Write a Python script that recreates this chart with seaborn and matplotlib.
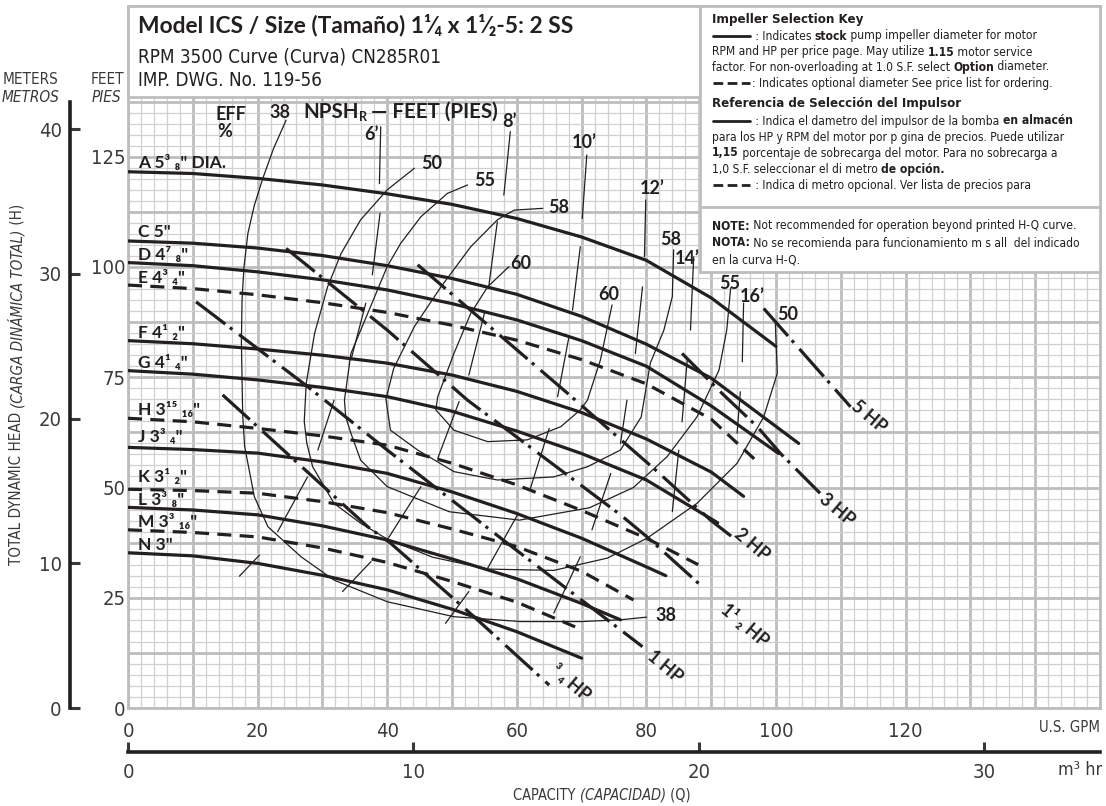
import numpy as np
import matplotlib
matplotlib.use("Agg")
from matplotlib import pyplot as plt
from matplotlib import font_manager
from matplotlib.patches import Rectangle
from matplotlib.lines import Line2D
import seaborn as sns

W, H = 1106, 806
INK = "#231f20"

# ---------------- values (U.S. GPM, feet) ----------------
q_A = [0, 10, 20, 30, 40, 50, 60, 70, 80, 90, 100]
h_A = [121.6, 121.2, 120.1, 118.6, 116.6, 114.2, 111.0, 106.8, 101.5, 93.0, 82.0]
q_C = [0, 10, 20, 30, 40, 50, 60, 70, 80, 90, 103.5]
h_C = [105.9, 105.4, 104.3, 102.6, 100.3, 97.4, 93.8, 88.8, 82.5, 74.8, 60.0]
q_D = [0, 10, 20, 30, 40, 50, 60, 70, 80, 90, 100.4]
h_D = [101.0, 100.3, 98.9, 97.1, 94.8, 91.7, 88.0, 83.3, 77.5, 68.5, 57.7]
q_E = [0, 10, 20, 30, 40, 50, 60, 70, 80, 90, 97]
h_E = [95.9, 95.1, 93.7, 91.9, 89.7, 86.8, 83.4, 79.0, 73.5, 65.5, 56.0]
q_F = [0, 10, 20, 30, 40, 50, 60, 70, 80, 90, 95]
h_F = [83.3, 82.6, 81.4, 80.0, 78.2, 75.5, 71.8, 67.0, 61.0, 53.5, 48.0]
q_G = [0, 10, 20, 30, 40, 50, 60, 70, 80, 91]
h_G = [76.5, 75.7, 74.4, 72.7, 70.6, 67.3, 62.8, 57.7, 51.7, 42.0]
q_H = [0, 10, 20, 30, 40, 50, 60, 70, 80, 88]
h_H = [65.7, 64.9, 63.4, 61.7, 59.6, 55.5, 50.6, 44.8, 38.5, 32.5]
q_J = [0, 10, 20, 30, 40, 50, 60, 70, 80, 83]
h_J = [59.1, 58.6, 57.8, 55.8, 53.2, 49.0, 44.1, 38.5, 32.0, 30.0]
q_K = [0, 10, 20, 30, 40, 50, 60, 70, 78]
h_K = [49.6, 49.3, 48.7, 46.8, 44.3, 40.6, 36.6, 31.0, 24.5]
q_L = [0, 10, 20, 30, 40, 50, 60, 70, 76]
h_L = [45.5, 44.9, 43.8, 41.3, 38.1, 33.8, 29.3, 23.7, 20.0]
q_M = [0, 10, 20, 30, 40, 50, 60, 69]
h_M = [40.4, 39.8, 38.8, 36.3, 33.0, 28.7, 24.0, 18.4]
q_N = [0, 10, 20, 30, 40, 50, 60, 70]
h_N = [35.2, 34.5, 32.8, 30.1, 26.8, 22.4, 17.3, 11.3]

diam_names = ['A 5³ ₈" DIA.', 'C 5"', 'D 4⁷ ₈"', 'E 4³ ₄"', 'F 4¹ ₂"', 'G 4¹ ₄"',
              'H 3¹⁵ ₁₆"', 'J 3³ ₄"', 'K 3¹ ₂"', 'L 3³ ₈"', 'M 3³ ₁₆"', 'N 3"']
diam_optional = [False, False, False, True, False, False, True, False, True, False, True, False]

# iso-efficiency lines (%)
eff38_q = [24.4, 22.5, 20.8, 19.5, 18.5, 17.9, 17.6, 17.5, 17.7, 18.0, 19.5, 21.6, 26.7, 31.8, 40.0, 50.3, 60.6, 70.0, 76.0, 80.0]
eff38_h = [133.3, 127.0, 120.1, 114.0, 107.6, 100.0, 92.5, 83.0, 66.4, 59.3, 47.9, 41.1, 34.3, 29.0, 24.1, 20.7, 19.6, 19.6, 20.0, 20.6]
eff50_q = [44.2, 40.0, 35.9, 32.9, 30.8, 28.8, 27.5, 27.2, 27.6, 28.5, 31.8, 35.9, 40.0, 47.0, 55.5, 65.7, 74.0, 80.1, 87.8, 94.0, 98.1, 100.2, 99.9]
eff50_h = [122.4, 117.5, 110.7, 103.1, 95.5, 85.0, 73.6, 65.0, 60.0, 54.7, 46.4, 41.9, 38.3, 34.2, 31.5, 31.2, 34.0, 38.5, 46.4, 55.5, 66.0, 75.9, 87.2]
eff55_q = [52.4, 49.3, 45.2, 42.1, 40.0, 37.0, 34.4, 33.4, 33.6, 34.4, 35.9, 40.0, 49.6, 60.4, 71.2, 78.0, 83.2, 87.8, 91.2, 92.4, 93.0]
eff55_h = [118.6, 116.7, 111.4, 105.4, 100.1, 89.5, 80.4, 69.8, 66.0, 62.3, 56.2, 50.2, 44.5, 42.6, 45.4, 50.0, 57.0, 66.0, 76.6, 85.7, 95.2]
eff58_q = [64.0, 59.6, 57.0, 52.9, 48.3, 44.2, 41.0, 39.8, 40.5, 44.7, 50.3, 57.0, 65.7, 70.9, 76.0, 79.2, 80.6, 82.7, 84.0, 84.2]
eff58_h = [113.3, 112.9, 110.7, 104.6, 95.5, 86.5, 77.0, 70.0, 63.0, 58.5, 53.6, 51.7, 52.4, 54.7, 58.5, 66.0, 78.2, 85.7, 93.3, 103.9]
eff60_q = [58.8, 55.5, 52.9, 50.3, 47.8, 47.5, 50.3, 55.5, 61.6, 66.8, 69.8, 70.9, 72.9, 74.7]
eff60_h = [100.1, 95.5, 89.5, 80.4, 70.6, 67.6, 63.0, 60.4, 60.8, 63.8, 67.6, 69.8, 78.9, 91.4]

# NPSHr lines, drawn as short pieces between the head curves: [(q0, h0, q1, h1), ...]
npsh6 = [(39.0, 131.8, 38.8, 118.9), (38.9, 112.2, 37.7, 98.2), (36.7, 91.8, 34.4, 78.9),
         (31.8, 69.8, 29.3, 58.5), (27.7, 52.4, 23.1, 40.0), (20.3, 34.7, 17.2, 29.9)]
npsh8 = [(59.0, 130.7, 58.0, 116.3), (57.0, 110.3, 55.7, 95.9), (55.0, 89.5, 52.6, 75.5),
         (51.1, 69.5, 47.8, 56.6), (45.2, 50.2, 40.0, 38.1), (37.5, 33.2, 33.1, 26.4)]
npsh10 = [(70.8, 125.4, 70.1, 111.0), (69.8, 104.6, 68.6, 90.2), (68.0, 83.8, 66.3, 70.6),
          (65.0, 63.4, 62.1, 49.8), (60.1, 43.8, 55.5, 31.7), (52.6, 26.4, 49.0, 19.2)]
npsh12 = [(79.9, 115.2, 79.7, 102.3), (79.4, 95.5, 78.3, 80.4), (77.0, 69.8, 76.0, 60.0),
          (74.5, 53.2, 71.6, 40.4), (69.8, 34.3, 65.7, 21.5)]
npsh14 = [(87.3, 102.3, 86.8, 85.7), (86.3, 78.9, 85.5, 64.9), (85.0, 58.5, 84.0, 44.5)]
npsh16 = [(95.0, 91.8, 94.8, 78.5), (94.5, 71.7, 94.0, 62.3)]

# motor horsepower lines
hp34_q = [14.6, 37.0, 40.5, 53.4, 65.0]
hp34_h = [71.0, 41.1, 37.4, 20.7, 5.2]
hp1_q = [10.5, 27.7, 40.0, 58.6, 79.4]
hp1_h = [92.1, 72.9, 58.5, 37.3, 13.9]
hp15_q = [24.4, 40.0, 52.4, 76.0, 80.1, 89.0]
hp15_h = [104.2, 85.7, 69.8, 43.8, 38.8, 27.0]
hp2_q = [44.7, 67.8, 81.7, 89.9, 93.5]
hp2_h = [100.5, 71.4, 53.6, 42.6, 38.5]
hp3_q = [85.5, 91.7, 97.1, 100.7, 106.8]
hp3_h = [80.4, 71.3, 63.8, 57.7, 48.7]
hp5_q = [98.1, 111.5]
hp5_h = [90.6, 68.3]

GPM_PER_M3H = 4.403
FT_PER_M = 3.28084

# ---------------- fonts ----------------
sns.set_theme(style="white")
entries = font_manager.fontManager.ttflist


def weight_num(w):
    if isinstance(w, (int, float)):
        return w
    return font_manager.weight_dict.get(str(w).lower(), 400)


def has_face(name, bold=False, stretch=None, light=False):
    for f in entries:
        if f.name != name:
            continue
        wn = weight_num(f.weight)
        if bold and wn < 600:
            continue
        if light and wn > 350:
            continue
        if stretch and f.stretch != stretch:
            continue
        return True
    return False


BOLD = next((n for n in ["Lato", "Open Sans", "Noto Sans", "Roboto", "Liberation Sans"]
             if has_face(n, bold=True)), "DejaVu Sans")
if has_face("DejaVu Sans", stretch="condensed"):
    REG = "DejaVu Sans"
    plt.rcParams["font.stretch"] = "condensed"
elif has_face("Liberation Sans Narrow"):
    REG = "Liberation Sans Narrow"
elif has_face("Lato", light=True):
    REG = "Lato"
    plt.rcParams["font.weight"] = "light"
else:
    REG = next((n for n in ["Lato", "Roboto", "Liberation Sans"] if has_face(n)), "DejaVu Sans")
plt.rcParams["font.family"] = [REG, "DejaVu Sans"]
plt.rcParams["text.color"] = INK
BFAM = [BOLD, "DejaVu Sans"]

fig = plt.figure(figsize=(W / 100, H / 100), dpi=100)
renderer = fig.canvas.get_renderer()
ax = fig.add_axes([128 / W, (H - 708) / H, 972 / W, 702 / H])
ax.set_xlim(0, 150)
ax.set_ylim(0, 702 / 4.41)

xt = np.arange(0, 151, 10)
ax.set_xticks(xt)
ax.set_xticklabels([f"{v}" if v % 20 == 0 and v <= 120 else "" for v in xt])
ax.set_xticks(np.arange(0, 151, 2), minor=True)
yt = np.arange(0, 159, 12.5)
ax.set_yticks(yt)
ax.set_yticklabels([f"{v:g}" if v % 25 == 0 and v <= 125 else "" for v in yt])
ax.set_yticks(np.arange(0, 159.5, 2.5), minor=True)
ax.grid(which="major", color="#bdbdbd", lw=2.0)
ax.grid(which="minor", color="#d0d0d0", lw=0.9)
ax.set_axisbelow(True)
ax.tick_params(which="both", length=0, colors="#3a3a3a")
ax.tick_params(axis="x", pad=10, labelsize=14.5)
ax.tick_params(axis="y", pad=2, labelsize=14.5)
for s in ax.spines.values():
    s.set_color("#bdbdbd")
    s.set_linewidth(2)


def line(q, h, lw=2.3, ls="-", z=3):
    sns.lineplot(x=q, y=h, ax=ax, sort=False, estimator=None, color=INK,
                 lw=lw, linestyle=ls, zorder=z, legend=False)


# head curves
head_q = [q_A, q_C, q_D, q_E, q_F, q_G, q_H, q_J, q_K, q_L, q_M, q_N]
head_h = [h_A, h_C, h_D, h_E, h_F, h_G, h_H, h_J, h_K, h_L, h_M, h_N]
for q, h, opt in zip(head_q, head_h, diam_optional):
    line(q, h, lw=2.3, ls=(0, (4.4, 2.6)) if opt else "-")

label_y = [123.6, 107.9, 102.7, 97.5, 85.0, 78.2, 67.6, 61.5, 52.4, 47.2, 42.2, 37.0]
for name, yy in zip(diam_names, label_y):
    ax.text(1.5, yy, name, family=BFAM, fontweight="bold", fontsize=12.5,
            va="center", ha="left", zorder=6)

# efficiency lines
for q, h in [(eff38_q, eff38_h), (eff50_q, eff50_h), (eff55_q, eff55_h),
             (eff58_q, eff58_h), (eff60_q, eff60_h)]:
    line(q, h, lw=0.9, z=2)

# NPSH pieces
for segs in [npsh6, npsh8, npsh10, npsh12, npsh14, npsh16]:
    for q0, h0, q1, h1 in segs:
        line([q0, q1], [h0, h1], lw=0.9, z=2)

# horsepower lines
hp_style = (0, (11.5, 1.8, 1.0, 2.6))
for q, h in [(hp34_q, hp34_h), (hp1_q, hp1_h), (hp15_q, hp15_h), (hp2_q, hp2_h),
             (hp3_q, hp3_h), (hp5_q, hp5_h)]:
    line(q, h, lw=2.3, ls=hp_style, z=4)

bold_kw = dict(family=BFAM, fontweight="bold", fontsize=13, zorder=6)
for txt, qq, hh in [("38", 23.4, 135.1), ("50", 46.8, 123.4), ("55", 55.0, 119.6),
                    ("58", 66.5, 113.5), ("60", 60.6, 100.8), ("60", 74.2, 93.8),
                    ("58", 83.8, 106.2), ("55", 92.8, 96.2), ("50", 101.8, 89.2),
                    ("38", 83.0, 21.0)]:
    ax.text(qq, hh, txt, ha="center", va="center", **bold_kw)
for txt, qq, hh in [("6’", 37.6, 130.0), ("8’", 58.9, 132.9), ("10’", 70.4, 128.3),
                    ("12’", 80.9, 117.9), ("14’", 86.3, 102.0), ("16’", 96.4, 93.2)]:
    ax.text(qq, hh, txt, ha="center", va="center", **bold_kw)
ax.text(13.5, 134.6, "EFF", ha="left", va="center", **bold_kw)
ax.text(14.9, 130.8, "%", ha="center", va="center", **bold_kw)

for txt, qq, hh in [("5 HP", 114.3, 66.0), ("3 HP", 109.4, 44.9), ("2 HP", 96.3, 37.0),
                    ("1¹ ₂ HP", 95.1, 18.8), ("1 HP", 82.9, 9.3), ("³ ₄ HP", 68.3, 5.7)]:
    ax.text(qq, hh, txt, ha="center", va="center", rotation=-40, **bold_kw)

# meters (left) and m3/hr (bottom) scales
sy = ax.secondary_yaxis(-58 / 972, functions=(lambda f: f / FT_PER_M, lambda m: m * FT_PER_M))
sy.set_yticks([0, 10, 20, 30, 40])
sy.spines["left"].set_bounds(0, 41.9)
sy.spines["left"].set_linewidth(2.6)
sy.spines["left"].set_color(INK)
sy.tick_params(direction="in", length=7, width=2.2, labelsize=14.5, pad=6, colors="#3a3a3a")

sx = ax.secondary_xaxis(-44 / 702, functions=(lambda q: q / GPM_PER_M3H, lambda m: m * GPM_PER_M3H))
sx.set_xticks([0, 10, 20, 30])
sx.spines["bottom"].set_linewidth(2.6)
sx.spines["bottom"].set_color(INK)
sx.tick_params(direction="in", length=7, width=2.2, labelsize=14.5, pad=8, colors="#3a3a3a")


def fx(x):
    return x / W


def fy(y):
    return 1 - y / H


def measure(s, rot=0, **kw):
    t1 = fig.text(0, 0, s + "|", rotation=rot, **kw)
    t2 = fig.text(0, 0, "|", rotation=rot, **kw)
    b1, b2 = t1.get_window_extent(renderer), t2.get_window_extent(renderer)
    t1.remove()
    t2.remove()
    return (b1.height - b2.height) if rot else (b1.width - b2.width)


def style_kw(b, size):
    if b == "b":      # heavy label face
        return dict(fontsize=size, family=BFAM, fontweight="bold")
    if b == "B":      # bold of the running text face
        return dict(fontsize=size, fontweight="bold")
    kw = dict(fontsize=size)
    if b == "i":
        kw["fontstyle"] = "italic"
    return kw


def run_len(parts, size, rot=0):
    return sum(measure(s, rot=rot, **style_kw(b, size)) for s, b in parts)


def fit(parts, target, base=10, rot=0):
    return base * target / run_len(parts, base, rot)


def rich(x, y, parts, size=9.5, rot=0, color=INK, z=8):
    for s, b in parts:
        kw = style_kw(b, size)
        if rot:
            fig.text(fx(x), fy(y), s, rotation=90, ha="center", va="bottom", zorder=z, color=color, **kw)
            y -= measure(s, rot=90, **kw)
        else:
            fig.text(fx(x), fy(y), s, ha="left", va="center", zorder=z, color=color, **kw)
            x += measure(s, **kw)


nps = fit([("NPSH", "b"), ("R", "b"), (" — FEET (PIES)", "b")], 200)
rich(303, 112, [("NPSH", "b")], size=nps, z=4)
xr = 303 + run_len([("NPSH", "b")], nps)
rich(xr, 117, [("R", "b")], size=nps * 0.62, z=4)
rich(xr + run_len([("R", "b")], nps * 0.62), 112, [(" — FEET (PIES)", "b")], size=nps, z=4)

# title box and selection key box
fig.add_artist(Rectangle((fx(128), fy(97)), 572 / W, 91 / H, transform=fig.transFigure,
                         fc="white", ec="#bdbdbd", lw=2, zorder=5))
fig.add_artist(Rectangle((fx(700), fy(272)), 400 / W, 266 / H, transform=fig.transFigure,
                         fc="white", ec="#bdbdbd", lw=2, zorder=5))
fig.add_artist(Line2D([fx(700), fx(1100)], [fy(207), fy(207)], transform=fig.transFigure,
                      color="#bdbdbd", lw=2, zorder=6))

title = [("Model ICS / Size (Tamaño) 1¹⁄₄ x 1¹⁄₂-5: 2 SS", "b")]
rich(138, 25, title, size=fit(title, 435))
sub1 = [("RPM 3500 Curve (Curva) CN285R01", "r")]
sub_size = fit(sub1, 305)
rich(138, 57, sub1, size=sub_size)
rich(138, 80, [("IMP. DWG. No. 119-56", "r")], size=sub_size)


def key_line(y, dashed):
    fig.add_artist(Line2D([fx(713), fx(750)], [fy(y), fy(y)], transform=fig.transFigure,
                          color=INK, lw=2, ls=(0, (3.5, 1.6)) if dashed else "-", zorder=8))


key_rows = [
    (752, 36, [(" : Indicates ", "r"), ("stock", "B"), (" pump impeller diameter for motor", "r")], 311),
    (712, 52, [("RPM and HP per price page. May utilize ", "r"), ("1.15", "B"), (" motor service", "r")], 321),
    (712, 67, [("factor. For non-overloading at 1.0 S.F. select ", "r"), ("Option", "B"), (" diameter.", "r")], 371),
    (752, 83, [(": Indicates optional diameter See price list for ordering.", "r")], 333),
    (752, 121, [(" : Indica el dametro del impulsor de la bomba ", "r"), ("en almacén", "B")], 346),
    (712, 137, [("para los HP y RPM del motor por p gina de precios. Puede utilizar", "r")], 385),
    (712, 153, [("1,15", "B"), (" porcentaje de sobrecarga del motor. Para no sobrecarga a", "r")], 366),
    (712, 169, [("1,0 S.F. seleccionar el di metro ", "r"), ("de opción.", "B")], 245),
    (752, 185, [(" : Indica di metro opcional. Ver lista de precios para", "r")], 313),
    (712, 226, [("NOTE:", "B"), (" Not recommended for operation beyond printed H-Q curve.", "r")], 386),
    (712, 243, [("NOTA:", "B"), (" No se recomienda para funcionamiento m s all  del indicado", "r")], 386),
    (712, 260, [("en la curva H-Q.", "r")], 140),
]
ks = min(fit(p, t) for _, _, p, t in key_rows)
hs = fit([("Impeller Selection Key", "B")], 150)
rich(712, 20, [("Impeller Selection Key", "B")], size=hs)
rich(712, 104, [("Referencia de Selección del Impulsor", "B")], size=hs)
for x0, y0, parts, _ in key_rows:
    rich(x0, y0, parts, size=ks)
for y0, dashed in [(36, False), (83, True), (121, False), (185, True)]:
    key_line(y0, dashed)

# axis titles
GREY = "#3a3a3a"
cap_size = fit([("METERS", "r")], 56)
rich(3, 80, [("METERS", "r")], size=cap_size, color=GREY)
rich(2, 97, [("METROS", "i")], size=cap_size, color=GREY)
rich(91, 80, [("FEET", "r")], size=cap_size, color=GREY)
rich(92, 97, [("PIES", "i")], size=cap_size, color=GREY)
gpm = [("U.S. GPM", "r")]
gs = fit(gpm, 61)
rich(1100 - run_len(gpm, gs), 728, gpm, size=gs, color=GREY)
m3 = [("m³ hr", "r")]
ms = fit(m3, 44)
rich(1102 - run_len(m3, ms), 770, m3, size=ms, color=GREY)
ylab = [("TOTAL DYNAMIC HEAD ", "r"), ("(CARGA DINÁMICA TOTAL)", "i"), (" (H)", "r")]
rich(17, 565, ylab, size=fit(ylab, 360, rot=90), rot=90, color=GREY)
xlab = [("CAPACITY ", "r"), ("(CAPACIDAD)", "i"), (" (Q)", "r")]
rich(513, 795, xlab, size=fit(xlab, 178), color=GREY)

fig.savefig("out.png", dpi=100)
